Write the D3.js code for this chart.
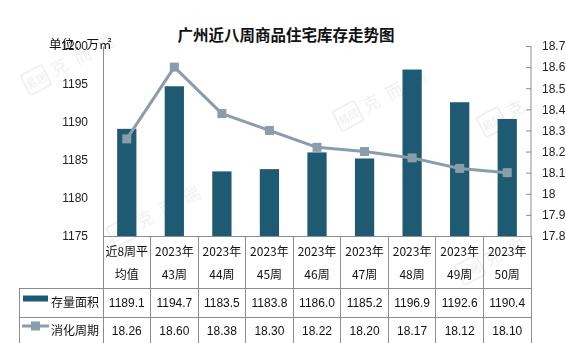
<!DOCTYPE html>
<html>
<head>
<meta charset="utf-8">
<script src="https://cdn.jsdelivr.net/npm/d3@7/dist/d3.min.js"></script>
<style>
  html, body { margin: 0; padding: 0; background: #fff; }
  svg { display: block; font-family: "Liberation Sans", "Noto Sans CJK SC", sans-serif; }
</style>
</head>
<body>
<svg id="chart" width="566" height="343"></svg>
<script>
// Weekly labels (two lines each) and series
const catLine1 = ["近8周平", "2023年", "2023年", "2023年", "2023年", "2023年", "2023年", "2023年", "2023年"];
const catLine2 = ["均值", "43周", "44周", "45周", "46周", "47周", "48周", "49周", "50周"];
const stockArea = [1189.1, 1194.7, 1183.5, 1183.8, 1186.0, 1185.2, 1196.9, 1192.6, 1190.4];
const cycleMonths = [18.26, 18.60, 18.38, 18.30, 18.22, 18.20, 18.17, 18.12, 18.10];
const leftTicks = [1175, 1180, 1185, 1190, 1195, 1200];
const rightTicks = [17.8, 17.9, 18, 18.1, 18.2, 18.3, 18.4, 18.5, 18.6, 18.7];
const seriesNames = ["存量面积", "消化周期"];

const barColor = "#1f5a73";
const lineColor = "#8a9dab";
const gridColor = "#8c8c8c";
const cjk = "'Noto Sans CJK SC', sans-serif";

const svg = d3.select("#chart");
const plotL = 103, plotR = 531, plotT = 46, plotB = 236;

const idx = d3.range(catLine1.length);
const x = d3.scaleBand().domain(idx).range([plotL, plotR]).padding(0);
const yL = d3.scaleLinear().domain([1175, 1200]).range([plotB, plotT]);
const yR = d3.scaleLinear().domain([17.8, 18.7]).range([plotB, plotT]);

// faint watermark
const wm = svg.append("g").attr("fill", "none").attr("opacity", 0.45);
function mark(cx, cy, word) {
  const g = wm.append("g").attr("transform", `translate(${cx},${cy}) rotate(-28)`);
  g.append("rect").attr("x", -12).attr("y", -11).attr("width", 24).attr("height", 22)
    .attr("stroke", "#d6d6d6").attr("stroke-width", 1.5).attr("rx", 2);
  g.append("text").attr("x", 0).attr("y", 5).attr("text-anchor", "middle")
    .attr("font-family", cjk).attr("font-size", 11).attr("fill", "#d6d6d6").text("易居");
  g.append("text").attr("x", 18).attr("y", 6).attr("font-family", cjk)
    .attr("font-size", 17).attr("fill", "#dcdcdc").attr("letter-spacing", 9).text(word);
}
mark(122, 232, "克而瑞");
mark(348, 116, "克而瑞");
mark(492, 122, "克");
mark(36, 80, "克而瑞");
mark(470, 270, "克而");

// title
svg.append("text").attr("x", 286).attr("y", 41).attr("text-anchor", "middle")
  .attr("font-family", cjk).attr("font-size", 15.5).attr("font-weight", "bold")
  .attr("fill", "#111").text("广州近八周商品住宅库存走势图");

// left axis
const gL = svg.append("g").attr("transform", `translate(${plotL},0)`)
  .call(d3.axisLeft(yL).tickValues(leftTicks).tickSize(0).tickPadding(15).tickFormat(d3.format("d")));
gL.select(".domain").attr("stroke", gridColor);
gL.selectAll("text").attr("font-size", 12).attr("fill", "#222").attr("font-family", "'Liberation Sans', sans-serif");

// unit label sits over the top tick
svg.append("text").attr("x", 49).attr("y", 49).attr("font-family", cjk)
  .attr("font-size", 12.5).attr("fill", "#111").text("单位：万㎡");

// right axis
const gR = svg.append("g").attr("transform", `translate(${plotR},0)`)
  .call(d3.axisRight(yR).tickValues(rightTicks).tickSize(-5).tickPadding(11)
    .tickFormat(d => d3.format("")(+d.toFixed(1))));
gR.select(".domain").attr("stroke", gridColor).attr("d", `M0,${plotT}V${plotB}`);
gR.selectAll(".tick line").attr("stroke", gridColor);
gR.selectAll("text").attr("font-size", 12).attr("fill", "#222").attr("font-family", "'Liberation Sans', sans-serif");

// bars
const barW = x.bandwidth() * 0.405;
svg.append("g").selectAll("rect").data(idx).join("rect")
  .attr("x", i => x(i) + x.bandwidth() / 2 - barW / 2)
  .attr("y", i => yL(stockArea[i]))
  .attr("width", barW)
  .attr("height", i => yL(1175) - yL(stockArea[i]))
  .attr("fill", barColor);

// line
const line = d3.line()
  .x(i => x(i) + x.bandwidth() / 2)
  .y(i => yR(cycleMonths[i]));
svg.append("path").datum(idx).attr("d", line)
  .attr("fill", "none").attr("stroke", lineColor).attr("stroke-width", 3)
  .attr("stroke-linejoin", "round");
svg.append("g").selectAll("rect").data(idx).join("rect")
  .attr("x", i => x(i) + x.bandwidth() / 2 - 4.5)
  .attr("y", i => yR(cycleMonths[i]) - 4.5)
  .attr("width", 9).attr("height", 9)
  .attr("fill", lineColor);

// data table
const tbl = svg.append("g").attr("stroke", gridColor).attr("stroke-width", 1).attr("shape-rendering", "crispEdges");
const tableLeft = 19;
tbl.append("line").attr("x1", plotL).attr("x2", plotR).attr("y1", plotB).attr("y2", plotB);
[288, 317].forEach(yy => tbl.append("line").attr("x1", tableLeft).attr("x2", plotR).attr("y1", yy).attr("y2", yy));
idx.concat([idx.length]).forEach(i => {
  const xx = i < idx.length ? x(i) : plotR;
  tbl.append("line").attr("x1", xx).attr("x2", xx).attr("y1", plotB).attr("y2", 346);
});
tbl.append("line").attr("x1", tableLeft).attr("x2", tableLeft).attr("y1", 288).attr("y2", 346);

const txt = svg.append("g").attr("font-size", 12).attr("fill", "#111").attr("text-anchor", "middle");
idx.forEach(i => {
  const cx = x(i) + x.bandwidth() / 2;
  txt.append("text").attr("x", cx).attr("y", 256).attr("font-family", cjk).text(catLine1[i]);
  txt.append("text").attr("x", cx).attr("y", 279).attr("font-family", cjk).text(catLine2[i]);
  txt.append("text").attr("x", cx).attr("y", 307).attr("font-family", "'Liberation Sans', sans-serif").text(stockArea[i].toFixed(1));
  txt.append("text").attr("x", cx).attr("y", 335).attr("font-family", "'Liberation Sans', sans-serif").text(cycleMonths[i].toFixed(2));
});

// legend cells
svg.append("rect").attr("x", 23).attr("y", 295.5).attr("width", 25).attr("height", 6).attr("fill", barColor);
svg.append("text").attr("x", 51).attr("y", 307).attr("font-family", cjk).attr("font-size", 12).attr("fill", "#111").text(seriesNames[0]);
svg.append("line").attr("x1", 22).attr("x2", 49).attr("y1", 326).attr("y2", 326).attr("stroke", lineColor).attr("stroke-width", 3);
svg.append("rect").attr("x", 31).attr("y", 321.5).attr("width", 9).attr("height", 9).attr("fill", lineColor);
svg.append("text").attr("x", 51).attr("y", 335).attr("font-family", cjk).attr("font-size", 12).attr("fill", "#111").text(seriesNames[1]);
</script>
</body>
</html>
